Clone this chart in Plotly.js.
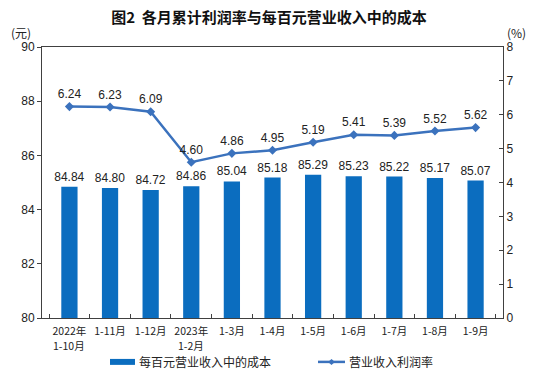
<!DOCTYPE html>
<html>
<head>
<meta charset="utf-8">
<script src="https://cdn.plot.ly/plotly-3.0.1.min.js"></script>
<style>html,body{margin:0;padding:0;background:#fff;}#chart{width:538px;height:386px;}</style>
</head>
<body>
<div id="chart"></div>
<script>
var categories = ["2022年 1-10月", "1-11月", "1-12月", "2023年 1-2月", "1-3月", "1-4月", "1-5月", "1-6月", "1-7月", "1-8月", "1-9月"];
var tickLine1 = ["2022年", "1-11月", "1-12月", "2023年", "1-3月", "1-4月", "1-5月", "1-6月", "1-7月", "1-8月", "1-9月"];
var tickLine2 = ["1-10月", "", "", "1-2月", "", "", "", "", "", "", ""];
var costPer100 = [84.84, 84.80, 84.72, 84.86, 85.04, 85.18, 85.29, 85.23, 85.22, 85.17, 85.07];
var profitRate = [6.24, 6.23, 6.09, 4.60, 4.86, 4.95, 5.19, 5.41, 5.39, 5.52, 5.62];
var costName = "每百元营业收入中的成本";
var rateName = "营业收入利润率";
var titleText = "图2  各月累计利润率与每百元营业收入中的成本";

var FONT = "Liberation Sans, Noto Sans CJK SC, sans-serif";
var CJK = "Noto Sans CJK SC, sans-serif";
var barColor = "#0b6dbf";
var lineColor = "#3b72bd";
var axisColor = "#404040";

var traces = [
  {
    type: "bar", x: categories, y: costPer100, name: costName,
    marker: {color: barColor},
    text: costPer100.map(function(v){return v.toFixed(2);}),
    textposition: "outside", cliponaxis: false, constraintext: "none",
    textfont: {family: FONT, size: 12, color: "#222"},
    hoverinfo: "skip"
  },
  {
    type: "scatter", mode: "lines+markers+text", x: categories, y: profitRate, yaxis: "y2", name: rateName,
    line: {color: lineColor, width: 2.5},
    marker: {color: lineColor, symbol: "diamond", size: 7},
    text: profitRate.map(function(v){return v.toFixed(2);}),
    textposition: "top center", cliponaxis: false,
    textfont: {family: FONT, size: 12, color: "#222"},
    hoverinfo: "skip"
  }
];

var annotations = [
  {text: costName, xref: "paper", yref: "paper", x: 0.206, y: -0.162, xanchor: "left", yanchor: "middle",
   showarrow: false, font: {family: CJK, size: 12, color: "#222"}},
  {text: rateName, xref: "paper", yref: "paper", x: 0.6616, y: -0.162, xanchor: "left", yanchor: "middle",
   showarrow: false, font: {family: CJK, size: 12, color: "#222"}},
  {text: "(元)", xref: "paper", yref: "paper", x: -0.045, y: 1.052, xanchor: "center", yanchor: "middle",
   showarrow: false, font: {family: CJK, size: 12, color: "#222"}},
  {text: "(%)", xref: "paper", yref: "paper", x: 1.03, y: 1.052, xanchor: "center", yanchor: "middle",
   showarrow: false, font: {family: CJK, size: 12, color: "#222"}}
];
tickLine2.forEach(function(t, i){
  if (t) annotations.push({text: t, xref: "x", yref: "paper", x: categories[i], y: -0.1, xanchor: "center",
    yanchor: "middle", showarrow: false, font: {family: CJK, size: 10.5, color: "#222"}});
});

var layout = {
  width: 538, height: 386,
  margin: {l: 42, r: 35, t: 47, b: 68},
  paper_bgcolor: "#fff", plot_bgcolor: "#fff",
  showlegend: false,
  bargap: 0.6,
  font: {family: FONT, size: 12, color: "#222"},
  title: {text: "<b>" + titleText + "</b>", x: 0.5, xanchor: "center", y: 0.955, yanchor: "middle",
          font: {family: CJK, size: 15, color: "#111"}},
  xaxis: {
    type: "category", tickson: "boundaries", ticks: "inside", ticklen: 4, tickcolor: axisColor,
    tickvals: categories, ticktext: tickLine1, ticklabelstandoff: 3,
    showline: true, linecolor: axisColor, linewidth: 1, mirror: true, showgrid: false,
    tickfont: {family: CJK, size: 10.5, color: "#222"}, tickangle: 0
  },
  yaxis: {
    range: [80, 90], dtick: 2, ticks: "outside", ticklen: 4, tickcolor: axisColor,
    showline: true, linecolor: axisColor, linewidth: 1, showgrid: false, zeroline: false,
    tickfont: {family: FONT, size: 12, color: "#222"}
  },
  yaxis2: {
    range: [0, 8], dtick: 1, overlaying: "y", side: "right", ticks: "inside", ticklen: 4, tickcolor: axisColor,
    showline: true, linecolor: axisColor, linewidth: 1, showgrid: false, zeroline: false,
    tickfont: {family: FONT, size: 12, color: "#222"}
  },
  shapes: [
    {type: "rect", xref: "paper", yref: "paper", x0: 0.1475, x1: 0.2017, y0: -0.151, y1: -0.173,
     fillcolor: barColor, line: {width: 0}},
    {type: "line", xref: "paper", yref: "paper", x0: 0.5987, x1: 0.6573, y0: -0.162, y1: -0.162,
     line: {color: lineColor, width: 2.5}},
    {type: "path", xref: "paper", yref: "paper",
     path: "M 0.628 -0.151 L 0.6355 -0.162 L 0.628 -0.173 L 0.6205 -0.162 Z",
     fillcolor: lineColor, line: {width: 0}}
  ],
  annotations: annotations
};

Plotly.newPlot("chart", traces, layout, {staticPlot: true, displayModeBar: false});
</script>
</body>
</html>
